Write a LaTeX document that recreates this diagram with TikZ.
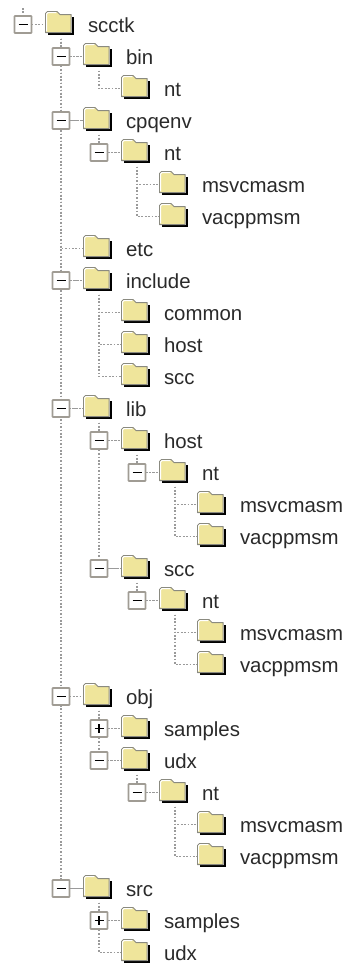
\documentclass[tikz,border=0pt]{standalone}
\usepackage{fontspec}
\setmainfont{Liberation Sans}
\usetikzlibrary{backgrounds}
\definecolor{folderfill}{HTML}{EFE59B}
\definecolor{folderedge}{HTML}{8A8A80}
\definecolor{boxedge}{HTML}{A09C94}
\definecolor{dotline}{HTML}{9A9A9A}
\definecolor{inktext}{HTML}{2A2A2A}
\tikzset{
  x=1pt,y=-1pt,
  folder/.style={minimum width=32pt,minimum height=28pt,inner sep=0pt,outer sep=0pt,
    path picture={
      \begin{scope}[shift={(path picture bounding box.center)}]
        \draw[black,line width=2.4pt] (-13,9.4) -- (11.8,9.4) -- (11.8,-8);
        \draw[folderedge,line width=1pt,fill=folderfill,line join=round]
          (-15.5,8.2) -- (-15.5,-11) -- (-13.5,-13) -- (-4,-13) -- (-1,-10) -- (10.2,-10) -- (10.2,8.2) -- cycle;
        \draw[white,line width=1pt] (-14.3,6.8) -- (-14.3,-10.6) -- (-13,-11.9) -- (-4.6,-11.9);
      \end{scope}
    }},
  treebox/.style={minimum size=17pt,inner sep=0pt,outer sep=0pt,draw=boxedge,line width=1.6pt,fill=white,rounded corners=0.6pt},
  minusbox/.style={treebox,path picture={
      \draw[black,line width=1.7pt] ([shift={(-4.5,0)}]path picture bounding box.center) -- ([shift={(4.5,0)}]path picture bounding box.center);}},
  plusbox/.style={treebox,path picture={
      \draw[black,line width=1.7pt] ([shift={(-4.5,0)}]path picture bounding box.center) -- ([shift={(4.5,0)}]path picture bounding box.center);
      \draw[black,line width=1.7pt] ([shift={(0,-4.5)}]path picture bounding box.center) -- ([shift={(0,4.5)}]path picture bounding box.center);}},
  itemtext/.style={anchor=base west,inner sep=0pt,outer sep=0pt,font=\fontsize{20.4}{24}\selectfont,text=inktext},
  conn/.style={draw=dotline,line width=1.6pt,dash pattern=on 1.7pt off 1.7pt},
}
% id, level, row, label
\newcommand{\TreeItem}[4]{%
  \pgfmathsetmacro{\fx}{61+38*#2}%
  \pgfmathsetmacro{\ry}{24.5+32*#3}%
  \pgfmathsetmacro{\tx}{\fx+27}%
  \pgfmathsetmacro{\ty}{\ry+7.5}%
  \node[folder] (f#1) at (\fx,\ry) {};
  \node[itemtext] (t#1) at (\tx,\ty) {#4};
}
% id, level, row, style
\newcommand{\TreeBox}[4]{%
  \pgfmathsetmacro{\bx}{23+38*#2}%
  \pgfmathsetmacro{\ry}{24.5+32*#3}%
  \node[#4] (b#1) at (\bx,\ry) {};
}
\begin{document}
\begin{tikzpicture}
\useasboundingbox (0,0) rectangle (344,964);
\TreeItem{a}{0}{0}{scctk}
\TreeItem{b}{1}{1}{bin}
\TreeItem{c}{2}{2}{nt}
\TreeItem{d}{1}{3}{cpqenv}
\TreeItem{e}{2}{4}{nt}
\TreeItem{g}{3}{5}{msvcmasm}
\TreeItem{h}{3}{6}{vacppmsm}
\TreeItem{i}{1}{7}{etc}
\TreeItem{j}{1}{8}{include}
\TreeItem{k}{2}{9}{common}
\TreeItem{l}{2}{10}{host}
\TreeItem{m}{2}{11}{scc}
\TreeItem{n}{1}{12}{lib}
\TreeItem{o}{2}{13}{host}
\TreeItem{p}{3}{14}{nt}
\TreeItem{q}{4}{15}{msvcmasm}
\TreeItem{r}{4}{16}{vacppmsm}
\TreeItem{s}{2}{17}{scc}
\TreeItem{u}{3}{18}{nt}
\TreeItem{v}{4}{19}{msvcmasm}
\TreeItem{w}{4}{20}{vacppmsm}
\TreeItem{x}{1}{21}{obj}
\TreeItem{y}{2}{22}{samples}
\TreeItem{z}{2}{23}{udx}
\TreeItem{A}{3}{24}{nt}
\TreeItem{B}{4}{25}{msvcmasm}
\TreeItem{C}{4}{26}{vacppmsm}
\TreeItem{D}{1}{27}{src}
\TreeItem{E}{2}{28}{samples}
\TreeItem{G}{2}{29}{udx}
\TreeBox{a}{0}{0}{minusbox}
\TreeBox{b}{1}{1}{minusbox}
\TreeBox{d}{1}{3}{minusbox}
\TreeBox{e}{2}{4}{minusbox}
\TreeBox{j}{1}{8}{minusbox}
\TreeBox{n}{1}{12}{minusbox}
\TreeBox{o}{2}{13}{minusbox}
\TreeBox{p}{3}{14}{minusbox}
\TreeBox{s}{2}{17}{minusbox}
\TreeBox{u}{3}{18}{minusbox}
\TreeBox{x}{1}{21}{minusbox}
\TreeBox{y}{2}{22}{plusbox}
\TreeBox{z}{2}{23}{minusbox}
\TreeBox{A}{3}{24}{minusbox}
\TreeBox{D}{1}{27}{minusbox}
\TreeBox{E}{2}{28}{plusbox}
\coordinate (top) at (23,8);
\begin{scope}[on background layer]
  \draw[conn] (top) -- (ba.north);
  \foreach \p/\c in {a/b,b/c,a/d,d/e,e/g,e/h,a/i,a/j,j/k,j/l,j/m,a/n,n/o,o/p,p/q,p/r,n/s,s/u,u/v,u/w,a/x,x/y,x/z,z/A,A/B,A/C,a/D,D/E,D/G}
    \draw[conn] (f\p.south) |- (f\c.west);
\end{scope}
\foreach \c in {a,b,d,e,j,n,o,p,s,u,x,y,z,A,D,E}
  \draw[conn] (b\c.east) -- (f\c.west);
\end{tikzpicture}
\end{document}
